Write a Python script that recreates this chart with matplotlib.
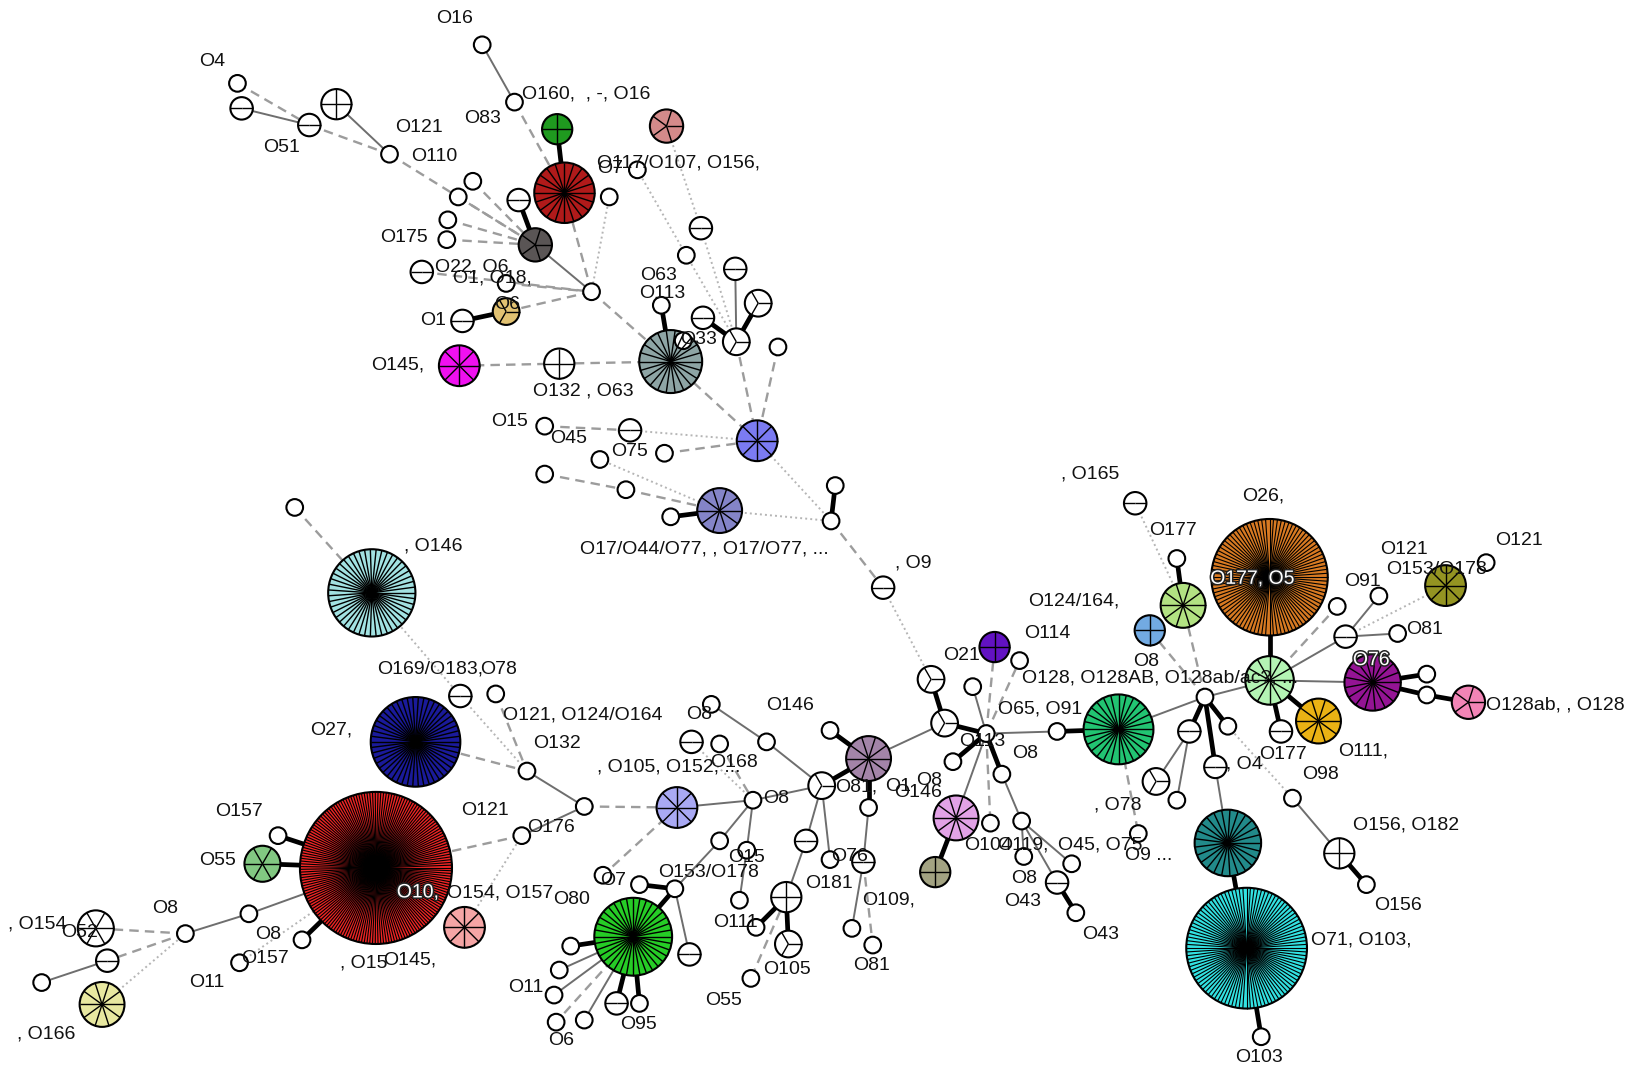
import numpy as np
import matplotlib
matplotlib.use("Agg")
import matplotlib.pyplot as plt
import matplotlib.patheffects as pe
from matplotlib.patches import Circle
from matplotlib.collections import LineCollection

plt.rcParams["font.family"] = ["Liberation Sans", "DejaVu Sans"]

# node: (id, x, y, isolates, colour) -- layout coordinates of the tree
nodes_north = [
    ("a1", 228, 80, 1, "white"), ("a2", 232, 104, 2, "white"), ("a3", 297, 120, 2, "white"),
    ("a4", 323, 100, 4, "white"), ("a5", 374, 148, 1, "white"), ("a6", 463, 43, 1, "white"),
    ("a7", 494, 98, 1, "white"), ("a8", 535, 124, 4, "#1f9a1f"), ("a9", 542, 185, 20, "#b01a1a"),
    ("a10", 640, 121, 5, "#d48a8a"), ("a11", 612, 163, 1, "white"), ("a12", 585, 189, 1, "white"),
    ("a13", 514, 235, 5, "#5a5555"), ("a14", 498, 192, 2, "white"), ("a15", 454, 174, 1, "white"),
    ("a16", 440, 189, 1, "white"), ("a17", 430, 211, 1, "white"), ("a18", 429, 230, 1, "white"),
    ("a19", 405, 261, 2, "white"), ("a20", 486, 272, 1, "white"), ("a21", 568, 280, 1, "white"),
    ("a22", 486, 299, 3, "#e2c272"), ("a23", 444, 308, 2, "white"), ("a24", 635, 293, 1, "white"),
    ("a25", 644, 347, 22, "#8ea5a5"), ("a26", 656, 327, 1, "white"), ("a27", 675, 305, 2, "white"),
    ("a28", 707, 328, 3, "white"), ("a29", 728, 291, 3, "white"), ("a30", 706, 258, 2, "white"),
    ("a31", 659, 245, 1, "white"), ("a32", 673, 219, 2, "white"), ("a33", 747, 333, 1, "white"),
    ("a34", 441, 351, 8, "#f010f0"), ("a35", 537, 349, 4, "white"), ("a36", 727, 423, 8, "#7b7bf2"),
    ("a37", 523, 409, 1, "white"), ("a38", 605, 413, 2, "white"), ("a39", 576, 441, 1, "white"),
    ("a40", 638, 435, 1, "white"), ("a41", 523, 455, 1, "white"), ("a42", 601, 470, 1, "white"),
    ("a43", 691, 490, 10, "#8484c8"), ("a44", 644, 496, 1, "white"), ("a45", 802, 466, 1, "white"),
    ("a46", 798, 500, 1, "white"), ("a47", 848, 564, 2, "white"),
]

nodes_west = [
    ("b1", 283, 487, 1, "white"), ("b2", 357, 569, 47, "#a2e2e2"), ("b3", 399, 712, 50, "#1a1a9a"),
    ("b4", 442, 668, 2, "white"), ("b5", 476, 666, 1, "white"), ("b6", 506, 740, 1, "white"),
    ("b7", 561, 774, 1, "white"), ("b8", 501, 802, 1, "white"), ("b9", 361, 833, 171, "#ec2424"),
    ("b10", 446, 890, 8, "#f5a5a5"), ("b11", 252, 829, 6, "#82c882"), ("b12", 267, 802, 1, "white"),
    ("b13", 239, 877, 1, "white"), ("b14", 178, 896, 1, "white"), ("b15", 290, 902, 1, "white"),
    ("b16", 230, 924, 1, "white"), ("b17", 92, 891, 6, "white"), ("b18", 103, 922, 2, "white"),
    ("b19", 40, 943, 1, "white"), ("b20", 98, 964, 10, "#e8e8a0"),
]

nodes_centre = [
    ("c1", 650, 775, 8, "#a9a9f4"), ("c2", 723, 768, 1, "white"), ("c3", 736, 712, 1, "white"),
    ("c4", 683, 676, 1, "white"), ("c5", 664, 712, 2, "white"), ("c6", 691, 714, 1, "white"),
    ("c7", 691, 807, 1, "white"), ("c8", 717, 816, 1, "white"), ("c9", 710, 864, 1, "white"),
    ("c10", 579, 840, 1, "white"), ("c11", 614, 849, 1, "white"), ("c12", 648, 853, 1, "white"),
    ("c13", 608, 899, 36, "#26cc26"), ("c14", 662, 916, 2, "white"), ("c15", 548, 908, 1, "white"),
    ("c16", 537, 931, 1, "white"), ("c17", 532, 955, 1, "white"), ("c18", 534, 981, 1, "white"),
    ("c19", 561, 979, 1, "white"), ("c20", 592, 963, 2, "white"), ("c21", 614, 963, 1, "white"),
    ("c22", 789, 754, 3, "white"), ("c23", 774, 807, 2, "white"), ("c24", 755, 861, 4, "white"),
    ("c25", 726, 890, 1, "white"), ("c26", 757, 906, 3, "white"), ("c27", 721, 939, 1, "white"),
    ("c28", 797, 825, 1, "white"), ("c29", 834, 728, 10, "#a384a8"), ("c30", 797, 701, 1, "white"),
    ("c31", 834, 775, 1, "white"), ("c32", 829, 827, 2, "white"), ("c33", 818, 891, 1, "white"),
    ("c34", 838, 907, 1, "white"),
    ("d1", 894, 652, 3, "white"), ("d2", 907, 694, 3, "white"), ("d3", 934, 659, 1, "white"),
    ("d4", 955, 621, 4, "#6212c2"), ("d5", 979, 634, 1, "white"), ("d6", 947, 704, 1, "white"),
    ("d7", 915, 731, 1, "white"), ("d8", 962, 743, 1, "white"), ("d9", 918, 785, 10, "#e2a2e6"),
    ("d10", 898, 837, 4, "#a3a382"), ("d11", 951, 790, 1, "white"), ("d12", 981, 788, 1, "white"),
    ("d13", 983, 822, 1, "white"), ("d14", 1029, 829, 1, "white"), ("d15", 1015, 847, 2, "white"),
    ("d16", 1033, 876, 1, "white"), ("d17", 1015, 702, 1, "white"), ("d18", 1074, 700, 28, "#22c472"),
    ("d19", 1093, 800, 1, "white"), ("d20", 1110, 750, 3, "white"), ("d21", 1130, 768, 1, "white"),
    ("d22", 1142, 702, 2, "white"), ("d23", 1167, 736, 2, "white"), ("d24", 1157, 669, 1, "white"),
]

nodes_east = [
    ("e1", 1136, 581, 10, "#b2e282"), ("e2", 1130, 536, 1, "white"), ("e3", 1090, 483, 2, "white"),
    ("e4", 1104, 605, 4, "#72aae2"), ("e5", 1219, 554, 92, "#d87a22"), ("e6", 1219, 653, 12, "#b4f4b4"),
    ("e7", 1292, 611, 2, "white"), ("e8", 1284, 582, 1, "white"), ("e9", 1324, 572, 1, "white"),
    ("e10", 1342, 608, 1, "white"), ("e11", 1388, 562, 8, "#949422"), ("e12", 1427, 540, 1, "white"),
    ("e13", 1318, 655, 17, "#941494"), ("e14", 1370, 647, 1, "white"), ("e15", 1370, 667, 1, "white"),
    ("e16", 1410, 674, 5, "#f284b6"), ("e17", 1179, 697, 1, "white"), ("e18", 1230, 702, 2, "white"),
    ("e19", 1266, 692, 10, "#eab214"), ("e20", 1241, 766, 1, "white"), ("e21", 1286, 819, 4, "white"),
    ("e22", 1312, 849, 1, "white"), ("e23", 1179, 809, 25, "#228a8a"), ("e24", 1197, 910, 100, "#32e2e2"),
    ("e25", 1211, 995, 1, "white"),
]

# links by line style
thick_links = [
    ("a8", "a9"), ("a14", "a13"), ("a23", "a22"), ("a24", "a25"), ("a27", "a28"), ("a28", "a29"),
    ("a44", "a43"), ("a45", "a46"),
    ("b9", "b12"), ("b9", "b11"), ("b9", "b15"),
    ("c12", "c13"), ("c11", "c12"), ("c13", "c15"), ("c13", "c20"), ("c13", "c21"),
    ("c22", "c29"), ("c24", "c25"), ("c24", "c26"), ("c29", "c30"), ("c29", "c31"),
    ("d1", "d2"), ("d2", "d6"), ("d6", "d7"), ("d6", "d8"), ("d17", "d18"), ("d9", "d10"),
    ("d15", "d16"), ("d24", "d22"), ("d24", "d23"), ("d24", "e17"),
    ("e1", "e2"), ("e5", "e6"), ("e13", "e14"), ("e13", "e15"), ("e15", "e16"), ("e6", "e19"),
    ("e6", "e18"), ("e21", "e22"), ("e23", "e24"), ("e24", "e25"),
]
solid_links = [
    ("a2", "a3"), ("a4", "a5"), ("a6", "a7"), ("a13", "a21"), ("a28", "a30"),
    ("b6", "b7"), ("b7", "b8"), ("b9", "b13"), ("b13", "b14"), ("b18", "b19"),
    ("c1", "c2"), ("c4", "c3"), ("c3", "c22"), ("c2", "c22"), ("c2", "c7"), ("c7", "c12"),
    ("c2", "c8"), ("c8", "c9"), ("c12", "c14"), ("c13", "c16"), ("c13", "c17"), ("c13", "c19"),
    ("c22", "c23"), ("c22", "c28"), ("c23", "c24"), ("c31", "c32"), ("c32", "c33"), ("c29", "d2"),
    ("d6", "d9"), ("d6", "d3"), ("d6", "d17"), ("d8", "d12"), ("d12", "d14"), ("d12", "d15"),
    ("d12", "d13"), ("d18", "d24"), ("d22", "d20"), ("d22", "d21"), ("d23", "e23"), ("d24", "e6"),
    ("e6", "e7"), ("e7", "e9"), ("e7", "e10"), ("e6", "e13"), ("e20", "e21"),
]
dashed_links = [
    ("a1", "a3"), ("a3", "a5"), ("a5", "a13"), ("a7", "a9"), ("a15", "a13"), ("a16", "a13"),
    ("a17", "a13"), ("a18", "a13"), ("a19", "a21"), ("a20", "a21"), ("a22", "a21"), ("a9", "a21"),
    ("a21", "a25"), ("a28", "a36"), ("a33", "a36"), ("a25", "a36"), ("a34", "a35"), ("a35", "a25"),
    ("a37", "a38"), ("a40", "a36"), ("a41", "a42"), ("a42", "a43"), ("a46", "a47"),
    ("b1", "b2"), ("b5", "b6"), ("b3", "b6"), ("b7", "c1"), ("b9", "b8"), ("b14", "b17"), ("b14", "b18"),
    ("c1", "c10"), ("c6", "c2"), ("c13", "c18"), ("c24", "c27"), ("c32", "c34"),
    ("d6", "d4"), ("d6", "d5"), ("d6", "d11"), ("d18", "d19"), ("d24", "e4"), ("d24", "e1"),
    ("e6", "e8"),
]
dotted_links = [
    ("a12", "a21"), ("a10", "a32"), ("a32", "a28"), ("a11", "a31"), ("a31", "a28"), ("a38", "a36"),
    ("a39", "a43"), ("a43", "a46"), ("a36", "a46"), ("a47", "d1"),
    ("b2", "b4"), ("b4", "b6"), ("b8", "b10"), ("b14", "b20"), ("b9", "b16"),
    ("c5", "c2"), ("e1", "e3"), ("e7", "e11"), ("e17", "e20"),
]

# labels: (x, y, text)
labels = [
    (191, 59, "O4"), (253, 142, "O51"), (419, 18, "O16"), (501, 90, "O160,  , -, O16"),
    (446, 114, "O83"), (379, 122, "O121"), (395, 150, "O110"), (573, 162, "O7"),
    (573, 156, "O117/O107, O156,"), (365, 228, "O175"), (418, 256, "O22, O6"),
    (435, 267, "O1, O18,"), (474, 292, "O6"), (403, 308, "O1"), (615, 264, "O63"),
    (614, 282, "O113"), (653, 326, "O33"), (356, 350, "O145,"), (512, 375, "O132 , O63"),
    (472, 405, "O15"), (528, 421, "O45"), (587, 433, "O75"),
    (557, 527, "O17/O44/O77, , O17/O77, ..."), (859, 540, ", O9"), (388, 524, ", O146"),
    (362, 642, "O169/O183,"), (461, 643, "O78"), (483, 686, "O121, O124/O164"),
    (512, 714, "O132"), (298, 701, "O27,"), (207, 779, "O157"), (191, 826, "O55"),
    (443, 778, "O121"), (506, 794, "O176"), (429, 857, "O154, O157"), (531, 863, "O80"),
    (146, 872, "O8"), (8, 887, ", O154"), (59, 895, "O52"), (245, 897, "O8"),
    (232, 920, "O157"), (182, 943, "O11"), (326, 924, ", O15"), (368, 921, "O145,"),
    (16, 992, ", O166"), (573, 736, ", O105, O152, ..."), (682, 732, "O168"),
    (659, 686, "O8"), (736, 677, "O146"), (733, 766, "O8"), (576, 845, "O7"),
    (632, 837, "O153/O178"), (699, 823, "O15"), (685, 885, "O111"), (733, 930, "O105"),
    (677, 960, "O55"), (488, 948, "O11"), (526, 999, "O6"), (595, 983, "O95"),
    (802, 755, "O81,"), (850, 755, "O1"), (880, 749, "O8"), (859, 761, "O146"),
    (798, 822, "O76"), (773, 848, "O181"), (828, 864, "O109,"), (819, 927, "O81"),
    (921, 712, "O113"), (972, 723, "O8"), (958, 680, "O65, O91"),
    (981, 651, "O128, O128AB, O128ab/ac?, ..."), (906, 629, "O21"), (983, 608, "O114"),
    (987, 577, "O124/164,"), (1088, 635, "O8"), (1019, 455, ", O165"), (1103, 509, "O177"),
    (1193, 476, "O26,"), (1325, 527, "O121"), (1436, 519, "O121"), (1331, 547, "O153/O178"),
    (1291, 558, "O91"), (1350, 604, "O81"), (1427, 677, "O128ab, , O128"),
    (1209, 724, "O177"), (1177, 733, ", O4"), (1285, 721, "O111,"), (1250, 743, "O98"),
    (1299, 792, "O156, O182"), (1319, 869, "O156"), (1259, 902, "O71, O103,"),
    (1186, 1015, "O103"), (1050, 773, ", O78"), (926, 811, "O104"), (957, 811, "O119,"),
    (1016, 811, "O45, O75"), (1080, 821, "O9 ..."), (971, 843, "O8"), (964, 865, "O43"),
    (1039, 897, "O43"),
]
# labels printed over large nodes, drawn outlined
outlined_labels = [(381, 857, "O10,"), (1162, 556, "O177, O5"), (1299, 634, "O76")]

W, H = 1568, 1025
fig = plt.figure(figsize=(16.33, 10.68), dpi=100)
ax = fig.add_axes([0, 0, 1, 1])
ax.set_xlim(0, W)
ax.set_ylim(H, 0)
ax.axis("off")

all_nodes = nodes_north + nodes_west + nodes_centre + nodes_east
pos = {n[0]: (n[1], n[2]) for n in all_nodes}


def radius(count):
    return 8.0 * count ** 0.43


def draw_links(links, **style):
    segs = [[pos[a], pos[b]] for a, b in links]
    ax.add_collection(LineCollection(segs, zorder=1, capstyle="butt", **style))


draw_links(dotted_links, colors="#b5b5b5", linewidths=1.4, linestyles=(0, (1, 1.6)))
draw_links(dashed_links, colors="#9c9c9c", linewidths=1.7, linestyles=(0, (4, 2.6)))
draw_links(solid_links, colors="#6e6e6e", linewidths=1.4)
draw_links(thick_links, colors="black", linewidths=3.4)

# pie-style nodes: one slice per isolate, slice borders as spokes
for nid, x, y, count, colour in all_nodes:
    r = radius(count)
    ax.add_patch(Circle((x, y), r, facecolor=colour, edgecolor="black", lw=1.5, zorder=3))
    if count > 1:
        ang = 2 * np.pi * np.arange(count) / count
        spokes = [[(x, y), (x + r * np.cos(t), y - r * np.sin(t))] for t in ang]
        lw = 1.0 if count < 60 else 0.8
        ax.add_collection(LineCollection(spokes, colors="black", linewidths=lw, zorder=4))

for x, y, s in labels:
    ax.text(x, y, s, fontsize=14, ha="left", va="center", color="#111111", zorder=6)

for x, y, s in outlined_labels:
    ax.text(x, y, s, fontsize=14, ha="left", va="center", color="white", zorder=7,
            path_effects=[pe.withStroke(linewidth=2.2, foreground="#222222")])

fig.savefig("out.png", dpi=100, facecolor="white")
